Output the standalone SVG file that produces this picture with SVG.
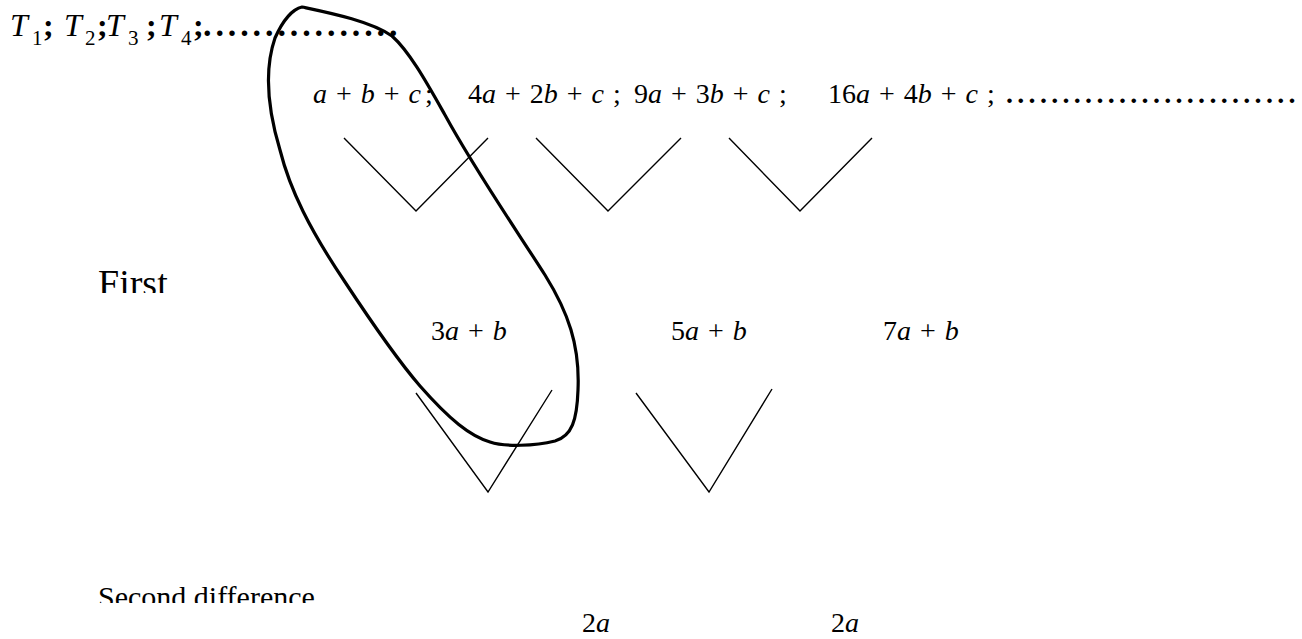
<svg xmlns="http://www.w3.org/2000/svg" width="1302" height="639" viewBox="0 0 1302 639">
<style>
text{font-family:"Liberation Serif","Times New Roman",serif;fill:#000}
.r1{font-size:32px}
.sub{font-size:21px}
.b{font-weight:bold}
.i{font-style:italic}
.r2{font-size:28px;word-spacing:2px}
.lbl{font-size:30px}
.v{fill:none;stroke:#000;stroke-width:1.4}
.loop{fill:none;stroke:#000;stroke-width:3.2;stroke-linejoin:round}
</style>
<defs>
<clipPath id="cFirst"><rect x="0" y="250" width="400" height="43"/></clipPath>
<clipPath id="cSecond"><rect x="0" y="570" width="500" height="33"/></clipPath>
</defs>
<rect width="1302" height="639" fill="#fff"/>
<g id="row1">
<text class="r1" y="36"><tspan class="i" x="10">T</tspan><tspan class="sub" x="32" y="45">1</tspan><tspan class="b" x="43" y="36">;</tspan><tspan class="i" x="64">T</tspan><tspan class="sub" x="85" y="45">2</tspan><tspan class="b" x="97" y="36">;</tspan><tspan class="i" x="106">T</tspan><tspan class="sub" x="128" y="45">3</tspan><tspan class="b" x="146" y="36">;</tspan><tspan class="i" x="159">T</tspan><tspan class="sub" x="181" y="45">4</tspan><tspan class="b" x="193" y="36">;</tspan></text>
<text class="b" x="203" y="36" font-size="34" letter-spacing="3.9">................</text>
</g>
<g id="row2">
<text class="r2" x="313" y="103"><tspan class="i">a</tspan> + <tspan class="i">b</tspan> + <tspan class="i">c</tspan><tspan dx="4">;</tspan></text>
<text class="r2" x="468" y="103">4<tspan class="i">a</tspan> + 2<tspan class="i">b</tspan> + <tspan class="i">c</tspan> ;</text>
<text class="r2" x="634" y="103">9<tspan class="i">a</tspan> + 3<tspan class="i">b</tspan> + <tspan class="i">c</tspan> ;</text>
<text class="r2" x="828" y="103">16<tspan class="i">a</tspan> + 4<tspan class="i">b</tspan> + <tspan class="i">c</tspan> ;</text>
<text class="b" x="1006" y="103" font-size="28" letter-spacing="4.3">..........................</text>
</g>
<g id="first-label"><text x="98" y="296" font-size="38" clip-path="url(#cFirst)">First</text></g>
<g id="row3">
<text class="r2" x="431" y="340">3<tspan class="i">a</tspan> + <tspan class="i">b</tspan></text>
<text class="r2" x="671" y="340">5<tspan class="i">a</tspan> + <tspan class="i">b</tspan></text>
<text class="r2" x="883" y="340">7<tspan class="i">a</tspan> + <tspan class="i">b</tspan></text>
</g>
<g id="second-label"><text class="lbl" x="98" y="607" clip-path="url(#cSecond)">Second difference</text></g>
<g id="row4">
<text class="r2" x="582" y="632">2<tspan class="i">a</tspan></text>
<text class="r2" x="831" y="632">2<tspan class="i">a</tspan></text>
</g>
<g id="connectors">
<polyline class="v" points="344,138 416,211 488,138"/>
<polyline class="v" points="536,138 608,211 681,138"/>
<polyline class="v" points="729,138 800,211 872,138"/>
<polyline class="v" points="416,393 488,492 552,390"/>
<polyline class="v" points="636,393 709,492 772,389"/>
</g>
<g id="loop">
<path class="loop" d="M302,7 C330,13 370,21 392,36 C410,52 428,85 445,115 C475,170 515,228 545,275 C568,312 580,345 578,390 C577,420 572,436 555,441 C535,446 505,447 490,442 C470,436 450,420 420,386 C395,357 370,320 345,282 C310,230 290,190 280,150 C268,110 264,70 275,38 C283,20 293,9 302,7 Z"/>
</g>
</svg>
